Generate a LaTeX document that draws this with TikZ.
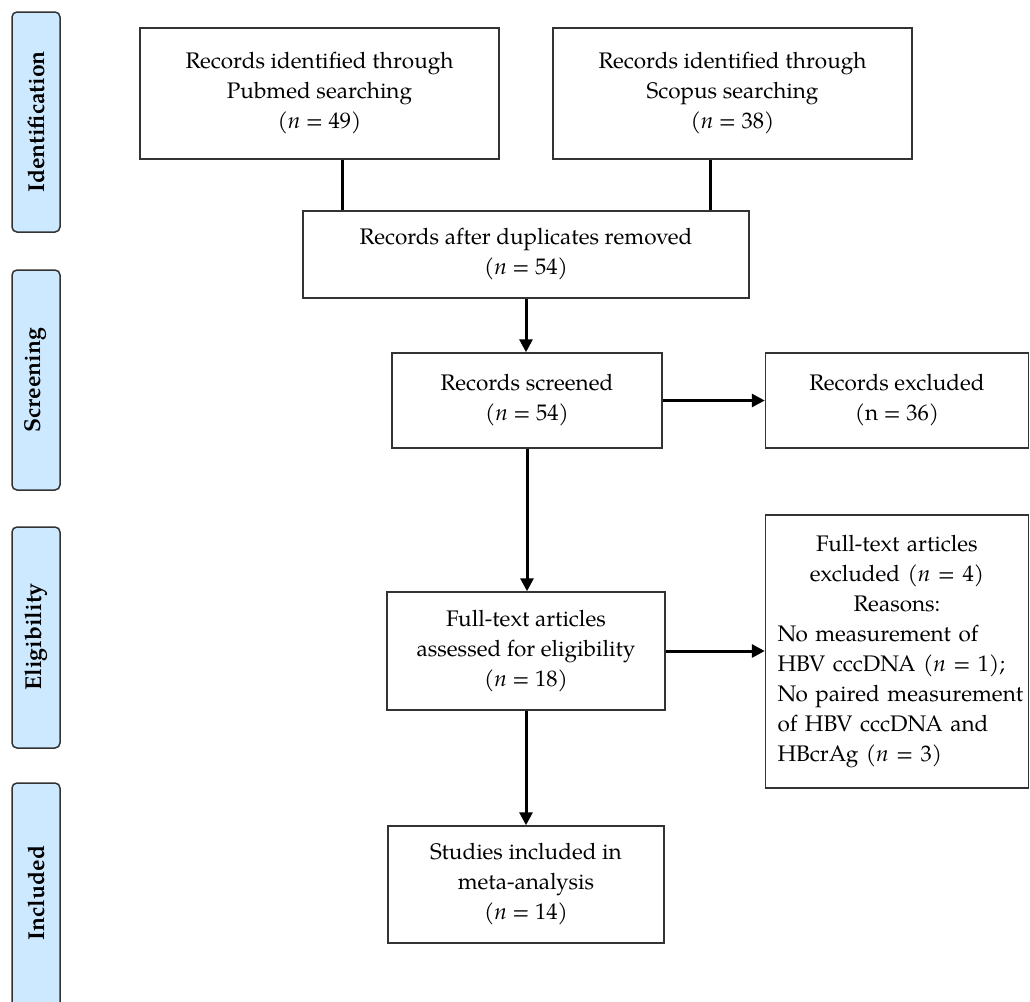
\documentclass[tikz,border=0pt]{standalone}
\usepackage{fontspec}
\setmainfont{TeX Gyre Pagella}
\usetikzlibrary{arrows.meta}
\definecolor{tabblue}{HTML}{CCE9FF}
\definecolor{boxline}{HTML}{333333}
\newcommand{\indln}[1]{\hspace*{5pt}\mbox{#1}}
\begin{document}
\begin{tikzpicture}[x=1pt,y=-1pt,
  box/.style={draw=boxline, line width=1.5pt, fill=white, align=center, inner sep=4pt,
    font=\fontsize{22.5}{30}\selectfont},
  tab/.style={draw=boxline, line width=1.5pt, fill=tabblue, rounded corners=5pt},
  tablabel/.style={rotate=90, font=\fontsize{23}{26}\selectfont\bfseries},
  conn/.style={line width=3pt, black},
  arr/.style={conn, -{Triangle[length=13pt,width=13pt]}}
]
\useasboundingbox (0,0) rectangle (1030,1001);
\clip (0,0) rectangle (1030,1001);

% side tabs
\draw[tab] (12,12) rectangle (60,232);
\node[tablabel] (tid) at (36,122) {Identification};
\draw[tab] (12,270) rectangle (60,490);
\node[tablabel] (tsc) at (36,380) {Screening};
\draw[tab] (12,527) rectangle (60,748);
\node[tablabel] (tel) at (36,637) {Eligibility};
\draw[tab] (12,783) rectangle (60,1030);
\node[tablabel] (tin) at (36,893) {Included};

% boxes
\node[box, minimum width=359pt, minimum height=131pt] (pub) at (319.5,93.5)
  {Records identified through\\Pubmed searching\\(\textit{n} = 49)};
\node[box, minimum width=359pt, minimum height=131pt] (sco) at (732.5,93.5)
  {Records identified through\\Scopus searching\\(\textit{n} = 38)};
\node[box, minimum width=446pt, minimum height=87pt] (dup) at (526,254.5)
  {Records after duplicates removed\\(\textit{n} = 54)};
\node[box, minimum width=270pt, minimum height=95pt] (scr) at (527,400.5)
  {Records screened\\(\textit{n} = 54)};
\node[box, minimum width=263pt, minimum height=95pt] (exc) at (897,400.5)
  {Records excluded\\(n = 36)};
\node[box, minimum width=263pt, minimum height=273pt, align=left, text width=249pt, inner sep=7pt] (ftx) at (897,651.5)
  {{\centering Full-text articles\\excluded (\textit{n} = 4)\\Reasons:\par}
   \indln{No measurement of}\\\indln{HBV cccDNA (\textit{n} = 1);}\\\indln{No paired measurement}\\\indln{of HBV cccDNA and}\\\indln{HBcrAg (\textit{n} = 3)}};
\node[box, minimum width=278pt, minimum height=118pt] (ft) at (526,651)
  {Full-text articles\\assessed for eligibility\\(\textit{n} = 18)};
\node[box, minimum width=276pt, minimum height=117pt] (inc) at (526,884.5)
  {Studies included in\\meta-analysis\\(\textit{n} = 14)};

% connectors
\draw[conn] ([xshift=22.5pt]pub.south) -- ([xshift=22.5pt]pub.south |- dup.north);
\draw[conn] ([xshift=-22.5pt]sco.south) -- ([xshift=-22.5pt]sco.south |- dup.north);
\draw[arr] (dup.south) -- (dup.south |- scr.north);
\draw[arr] (scr.east) -- (scr.east -| exc.west);
\draw[arr] (scr.south) -- (scr.south |- ft.north);
\draw[arr] (ft.east) -- (ft.east -| ftx.west);
\draw[arr] (ft.south) -- (ft.south |- inc.north);
\end{tikzpicture}
\end{document}
